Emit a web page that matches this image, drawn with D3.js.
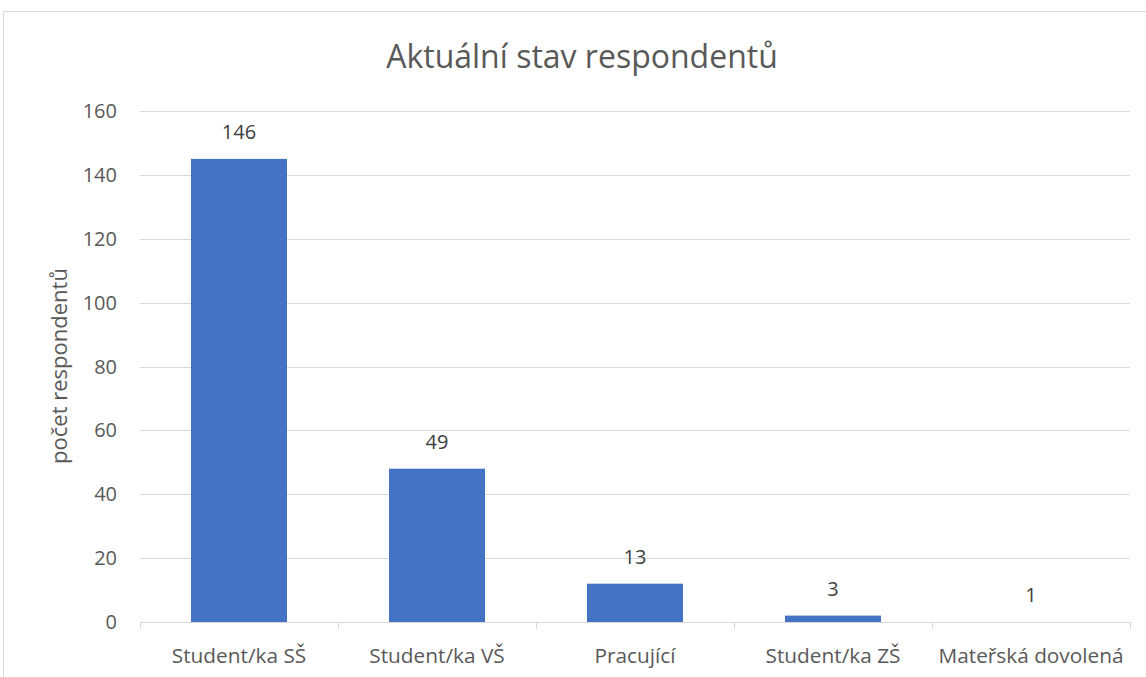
<!DOCTYPE html>
<html>
<head>
<meta charset="utf-8">
<script src="https://cdn.jsdelivr.net/npm/d3@7"></script>
<style>
  body { margin: 0; background: #fff; }
  text { font-family: "Open Sans", "Noto Sans", sans-serif; }
</style>
</head>
<body>
<script>
var categories = ["Student/ka SŠ", "Student/ka VŠ", "Pracující", "Student/ka ZŠ", "Mateřská dovolená"];
// bar heights as drawn in the picture
var barValues = [145, 48, 12, 2, 0];
// numbers printed above the bars
var labelValues = [146, 49, 13, 3, 1];
var yTicks = [0, 20, 40, 60, 80, 100, 120, 140, 160];

var svgWidth = 1146;
var svgHeight = 677;
var margin = { top: 111, right: 16, bottom: 55, left: 140 };
var width = 1130 - margin.left;
var height = 622 - margin.top;

var svg = d3.select("body")
  .append("svg")
  .attr("width", svgWidth)
  .attr("height", svgHeight);

// chart frame
svg.append("rect")
  .attr("x", 3.5)
  .attr("y", 11.5)
  .attr("width", 1160)
  .attr("height", 700)
  .attr("fill", "none")
  .attr("stroke", "#d9d9d9")
  .attr("stroke-width", 1);

svg.append("text")
  .attr("x", 582)
  .attr("y", 68)
  .attr("text-anchor", "middle")
  .attr("font-size", "32px")
  .attr("fill", "#595959")
  .text("Aktuální stav respondentů");

var chartGroup = svg.append("g")
  .attr("transform", `translate(${margin.left}, ${margin.top})`);

var xScale = d3.scaleBand()
  .domain(categories)
  .range([0, width])
  .padding(0);

var yScale = d3.scaleLinear()
  .domain([0, 160])
  .range([height, 0]);

// gridlines
chartGroup.selectAll(".grid")
  .data(yTicks.filter(d => d > 0))
  .enter()
  .append("line")
  .attr("x1", 0)
  .attr("x2", width)
  .attr("y1", d => Math.round(yScale(d)) + 0.5)
  .attr("y2", d => Math.round(yScale(d)) + 0.5)
  .attr("stroke", "#d9d9d9")
  .attr("stroke-width", 1);

// y tick labels
chartGroup.selectAll(".ylab")
  .data(yTicks)
  .enter()
  .append("text")
  .attr("x", -23)
  .attr("y", d => yScale(d))
  .attr("dy", "0.35em")
  .attr("text-anchor", "end")
  .attr("font-size", "20px")
  .attr("fill", "#595959")
  .text(d => d);

// bars
var barW = xScale.bandwidth() * 0.485;
chartGroup.selectAll(".bar")
  .data(barValues)
  .enter()
  .append("rect")
  .attr("x", (d, i) => xScale(categories[i]) + (xScale.bandwidth() - barW) / 2)
  .attr("y", d => yScale(d))
  .attr("width", barW)
  .attr("height", d => height - yScale(d))
  .attr("fill", "#4472c4");

// data labels
chartGroup.selectAll(".dlab")
  .data(labelValues)
  .enter()
  .append("text")
  .attr("x", (d, i) => xScale(categories[i]) + xScale.bandwidth() / 2)
  .attr("y", (d, i) => yScale(barValues[i]) - 20)
  .attr("text-anchor", "middle")
  .attr("font-size", "20px")
  .attr("fill", "#404040")
  .text(d => d);

// x axis
var bottomAxis = d3.axisBottom(xScale).tickSize(0).tickPadding(26);
var xAxis = chartGroup.append("g")
  .attr("transform", `translate(0, ${height})`)
  .call(bottomAxis);
xAxis.select(".domain").attr("stroke", "#d9d9d9");
xAxis.selectAll("text")
  .attr("font-size", "20.8px")
  .attr("fill", "#595959")
  .attr("font-family", "Open Sans, Noto Sans, sans-serif");

// boundary ticks between categories
var bounds = categories.map(c => xScale(c)).concat([width]);
xAxis.selectAll(".bound")
  .data(bounds)
  .enter()
  .append("line")
  .attr("x1", d => Math.round(d) + 0.5)
  .attr("x2", d => Math.round(d) + 0.5)
  .attr("y1", 0)
  .attr("y2", 7)
  .attr("stroke", "#d9d9d9");

// y axis title
svg.append("text")
  .attr("transform", "translate(67, 366) rotate(-90)")
  .attr("text-anchor", "middle")
  .attr("font-size", "22px")
  .attr("fill", "#595959")
  .text("počet respondentů");
</script>
</body>
</html>
